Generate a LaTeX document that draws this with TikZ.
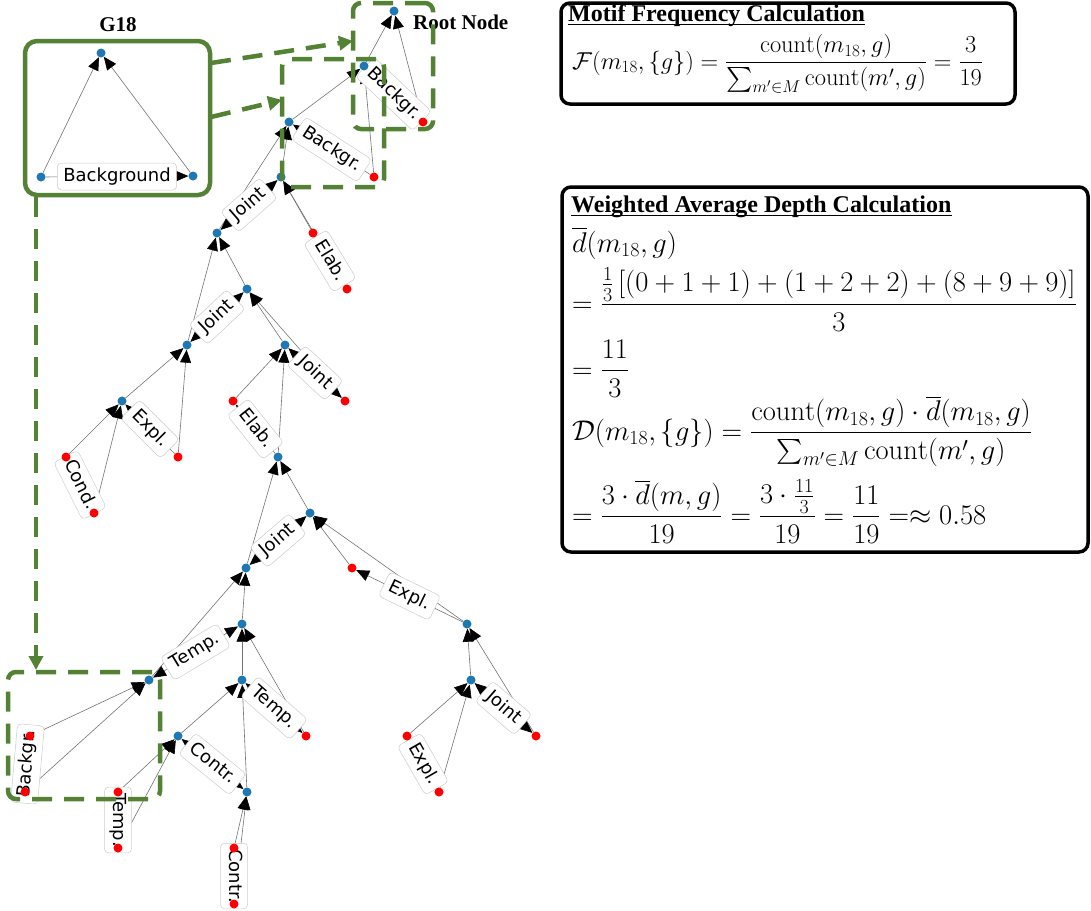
\RequirePackage{fix-cm}
\documentclass[tikz,border=0pt]{standalone}
\usepackage{amsmath}
\usepackage{fontspec}
\newfontfamily\lblfont{DejaVu Sans}
\newfontfamily\tnr{Liberation Serif}
\usetikzlibrary{arrows.meta}
\definecolor{mgreen}{RGB}{84,130,53}
\definecolor{nblue}{RGB}{31,119,180}
\pgfdeclarelayer{edgelayer}
\pgfdeclarelayer{lbllayer}
\pgfsetlayers{edgelayer,lbllayer,main}
\tikzset{
  bn/.style={circle, fill=nblue, inner sep=0pt, minimum size=9pt},
  rn/.style={circle, fill=red, inner sep=0pt, minimum size=9pt},
  tip/.tip={Triangle[length=13pt,width=11pt,color=black]},
  ed/.style={draw=black!55, line width=0.6pt, -tip},
  bi/.style={draw=black!55, line width=0.6pt, tip-tip},
  lbl/.style={fill=white, draw=black!20, line width=0.5pt, rounded corners=4pt,
    inner xsep=6pt, inner ysep=5pt, font=\lblfont\fontsize{18}{20}\selectfont,
    text height=13pt, text depth=4pt},
  gbox/.style={draw=mgreen, line width=4.5pt, rounded corners=12pt},
  gdash/.style={draw=mgreen, line width=4.5pt, dash pattern=on 20pt off 12pt, rounded corners=8pt},
  garrow/.style={draw=mgreen, line width=4.5pt, dash pattern=on 20pt off 12pt,
    -{Triangle[length=14pt,width=14pt]}},
  fbox/.style={draw=black, line width=3.5pt, rounded corners=9pt},
  ttl/.style={inner sep=0pt, anchor=base west, font=\tnr\bfseries\fontsize{24}{28}\selectfont},
  mth/.style={inner sep=0pt, anchor=base west, font=\fontsize{24.4}{28}\selectfont},
  mthb/.style={inner sep=0pt, anchor=base west, font=\fontsize{28.5}{32}\selectfont},
}
\begin{document}
\begin{tikzpicture}[x=1pt,y=-1pt]
\useasboundingbox (0,0) rectangle (1091,910);
% ---------- G18 motif ----------
\node[font=\tnr\bfseries\fontsize{21}{24}\selectfont, inner sep=0pt] (g18t) at (118,25) {G18};
\node[gbox, minimum width=185pt, minimum height=154pt] (g18box) at (117.5,118) {};
\node[bn] (g1) at (101,53) {};
\node[bn] (g2) at (41,177) {};
\node[bn] (g3) at (193,176) {};
\begin{pgfonlayer}{edgelayer}
\draw[ed] (g2) -- (g1);
\draw[ed] (g3) -- (g1);
\draw[ed] (g2) -- (g3);
\end{pgfonlayer}
\begin{pgfonlayer}{lbllayer}
\path (g2) -- node[lbl] {Background} (g3);
\end{pgfonlayer}
% ---------- tree nodes ----------
\node[bn] (root) at (394,11) {};
\node[bn] (R1) at (364,66) {};
\node[rn] (L1) at (423,122) {};
\node[bn] (B2) at (289,122) {};
\node[rn] (L2) at (374,177) {};
\node[bn] (B3) at (281,177) {};
\node[bn] (B4) at (217,233) {};
\node[rn] (E1) at (313,233) {};
\node[rn] (E2) at (347,289) {};
\node[bn] (B6) at (247,289) {};
\node[bn] (B5) at (187,345) {};
\node[bn] (B8) at (285,345) {};
\node[bn] (B7) at (122,401) {};
\node[rn] (r1) at (233,401) {};
\node[rn] (r2) at (345,401) {};
\node[rn] (r3) at (66,457) {};
\node[rn] (r4) at (178,457) {};
\node[bn] (B9) at (278,457) {};
\node[rn] (r5) at (94,513) {};
\node[bn] (B10) at (310,513) {};
\node[bn] (B11) at (246,568) {};
\node[rn] (r6) at (352,568) {};
\node[bn] (B12) at (242,624) {};
\node[bn] (B13) at (467,624) {};
\node[bn] (B17) at (149,680) {};
\node[bn] (B14) at (242,680) {};
\node[bn] (B15) at (471,680) {};
\node[rn] (r7) at (30,736) {};
\node[bn] (B16) at (178,736) {};
\node[rn] (r8) at (306,736) {};
\node[rn] (r9) at (407,736) {};
\node[rn] (r10) at (536,736) {};
\node[rn] (r11) at (25,792) {};
\node[rn] (r12) at (118,792) {};
\node[bn] (B18) at (247,792) {};
\node[rn] (r13) at (439,792) {};
\node[rn] (r14) at (118,848) {};
\node[rn] (r15) at (234,848) {};
\node[rn] (r16) at (234,904) {};
\node[font=\tnr\bfseries\fontsize{21}{24}\selectfont, inner sep=0pt, anchor=west] (rootlbl) at (413,22) {Root Node};
% ---------- edges ----------
\begin{pgfonlayer}{edgelayer}
\foreach \c/\p in {R1/root, L1/root, B2/R1, L2/R1, B3/B2, B4/B2, E1/B3, E2/B3,
  B5/B4, B6/B4, B7/B5, r4/B5, r3/B7, r5/B7, B8/B6, r2/B6, r1/B8, B9/B8,
  B11/B9, B10/B9, r6/B10, B13/B10, B15/B13, r10/B13, r9/B15, r13/B15,
  B17/B11, B12/B11, B14/B12, r8/B12, B16/B14, B18/B14, r12/B16, r14/B16,
  r15/B18, r16/B18, r7/B17, r11/B17}
  \draw[ed] (\c) -- (\p);
\foreach \a/\b in {L1/R1, L2/B2, E2/E1, r4/B7, r5/r3, B9/r1, B13/r6, r13/r9, r11/r7}
  \draw[ed] (\a) -- (\b);
\foreach \a/\b in {B3/B4, B5/B6, B8/r2, B11/B10, B15/r10, B17/B12, B14/r8, B16/B18, r12/r14, r15/r16}
  \draw[bi] (\a) -- (\b);
\end{pgfonlayer}
% ---------- relation labels ----------
\begin{pgfonlayer}{lbllayer}
\path (R1) -- node[lbl, sloped] {Backgr.} (L1);
\path (B2) -- node[lbl, sloped] {Backgr.} (L2);
\path (B4) -- node[lbl, sloped] {Joint} (B3);
\path (E1) -- node[lbl, sloped] {Elab.} (E2);
\path (B5) -- node[lbl, sloped] {Joint} (B6);
\path (B7) -- node[lbl, sloped] {Expl.} (r4);
\path (r3) -- node[lbl, sloped] {Cond.} (r5);
\path (B8) -- node[lbl, sloped] {Joint} (r2);
\path (r1) -- node[lbl, sloped] {Elab.} (B9);
\path (B11) -- node[lbl, sloped] {Joint} (B10);
\path (r6) -- node[lbl, sloped] {Expl.} (B13);
\path (B15) -- node[lbl, sloped] {Joint} (r10);
\path (r9) -- node[lbl, sloped] {Expl.} (r13);
\path (B17) -- node[lbl, sloped] {Temp.} (B12);
\path (B14) -- node[lbl, sloped] {Temp.} (r8);
\path (B16) -- node[lbl, sloped] {Contr.} (B18);
\path (r12) -- node[lbl, rotate=-90] {Temp.} (r14);
\path (r15) -- node[lbl, rotate=-90] {Contr.} (r16);
\path (r7) -- node[lbl, sloped] {Backgr.} (r11);
\end{pgfonlayer}
% ---------- motif highlights ----------
\node[gdash, minimum width=80pt, minimum height=126pt] (hA) at (393,66) {};
\node[gdash, minimum width=102pt, minimum height=128pt] (hB) at (333,123) {};
\node[gdash, minimum width=152pt, minimum height=127pt] (hC) at (84,735.5) {};
\coordinate (a1s) at (211,63);
\coordinate (a1e) at (353,41);
\coordinate (a2s) at (211,117);
\coordinate (a2e) at (282,100);
\coordinate (a3s) at (36,197);
\coordinate (a3e) at (36,670);
\draw[garrow] (a1s) -- (a1e);
\draw[garrow] (a2s) -- (a2e);
\draw[garrow] (a3s) -- (a3e);
% ---------- formula box 1 ----------
\draw[fbox] (561,3) rectangle (1015,104);
\node[ttl] (t1) at (568,21) {Motif Frequency Calculation};
\draw[line width=1.8pt] ([yshift=-3.5pt]t1.base west) -- ([yshift=-3.5pt]t1.base east);
\node[mth] (f1) at (572,69) {$\displaystyle \mathcal{F}(m_{18},\{g\}) = \frac{\mathrm{count}(m_{18},g)}{\sum_{m'\in M}\mathrm{count}(m',g)} = \frac{3}{19}$};
% ---------- formula box 2 ----------
\draw[fbox] (562,187) rectangle (1088,552);
\node[ttl] (t2) at (571,212) {Weighted Average Depth Calculation};
\draw[line width=1.8pt] ([yshift=-3.5pt]t2.base west) -- ([yshift=-3.5pt]t2.base east);
\node[mthb] (m1) at (572,252) {$\overline{d}(m_{18},g)$};
\node[mthb] (m2) at (572,312) {$\displaystyle = \frac{\frac{1}{3}\,[(0+1+1)+(1+2+2)+(8+9+9)]}{3}$};
\node[mthb] (m3) at (572,378) {$\displaystyle = \frac{11}{3}$};
\node[mthb] (m4) at (572,440) {$\displaystyle \mathcal{D}(m_{18},\{g\}) = \frac{\mathrm{count}(m_{18},g)\cdot\overline{d}(m_{18},g)}{\sum_{m'\in M}\mathrm{count}(m',g)}$};
\node[mthb] (m5) at (572,524) {$\displaystyle = \frac{3\cdot\overline{d}(m,g)}{19} = \frac{3\cdot\frac{11}{3}}{19} = \frac{11}{19} =\approx 0.58$};
\end{tikzpicture}
\end{document}
